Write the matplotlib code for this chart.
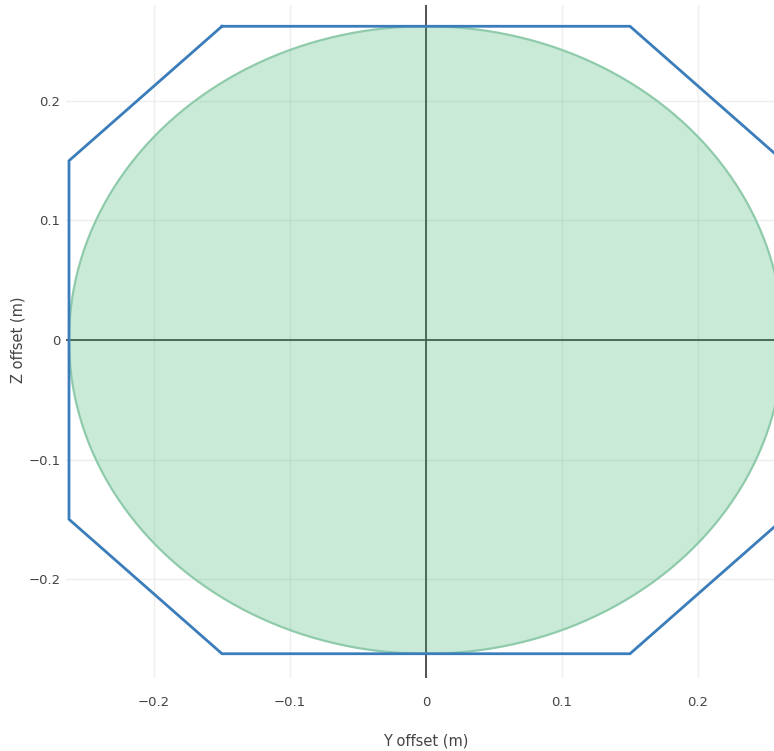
import numpy as np
import matplotlib
matplotlib.use("Agg")
import matplotlib.pyplot as plt
from matplotlib.transforms import blended_transform_factory

# envelope outline (octagon) in metres
octagon_y = [-0.15, 0.15, 0.2625, 0.2625, 0.15, -0.15, -0.2625, -0.2625, -0.15]
octagon_z = [0.2625, 0.2625, 0.15, -0.15, -0.2625, -0.2625, -0.15, 0.15, 0.2625]

# circular section
circle_radius = 0.2625
circle_center = (0.0, 0.0)

x_ticks = [-0.2, -0.1, 0, 0.1, 0.2]
y_ticks = [-0.2, -0.1, 0, 0.1, 0.2]
tick_labels = ["\u22120.2", "\u22120.1", "0", "0.1", "0.2"]

fig = plt.figure(figsize=(7.74, 7.51), dpi=100)
ax = fig.add_axes([66 / 774, 73 / 751, 708 / 774, 673 / 751])

ax.set_xlim(-0.2647, 0.2559)
ax.set_ylim(-0.2828, 0.2803)

# grid + zero lines
ax.set_axisbelow(True)
ax.grid(True, color="#eeeeee", linewidth=1)
ax.axhline(0, color="#444444", linewidth=1.3, zorder=1)
ax.axvline(0, color="#444444", linewidth=1.3, zorder=1)

# circle
t = np.linspace(0, 2 * np.pi, 400)
cy = circle_center[0] + circle_radius * np.cos(t)
cz = circle_center[1] + circle_radius * np.sin(t)
ax.fill(cy, cz, color="#3cb371", alpha=0.27, linewidth=0, zorder=2)
ax.plot(cy, cz, color="#8fcbaa", linewidth=1.6, zorder=3)

# octagon
ax.plot(octagon_y, octagon_z, color="#3a7dba", linewidth=2.0, zorder=4,
        solid_joinstyle="miter")

for s in ax.spines.values():
    s.set_visible(False)

ax.set_xticks(x_ticks)
ax.set_yticks(y_ticks)
ax.set_xticklabels(tick_labels)
ax.set_yticklabels(tick_labels)
ax.tick_params(length=0, labelsize=9.5, labelcolor="#444444")
ax.tick_params(axis="x", pad=13)
ax.tick_params(axis="y", pad=4)

trans = blended_transform_factory(ax.transData, fig.transFigure)
ax.text(0, 1 - 741 / 751, "Y offset (m)", transform=trans, ha="center",
        va="center", fontsize=10.5, color="#444444")
trans_y = blended_transform_factory(fig.transFigure, ax.transData)
ax.text(18 / 774, 0, "Z offset (m)", transform=trans_y, ha="center",
        va="center", rotation=90, fontsize=10.5, color="#444444")

fig.savefig("out.png", dpi=100)
